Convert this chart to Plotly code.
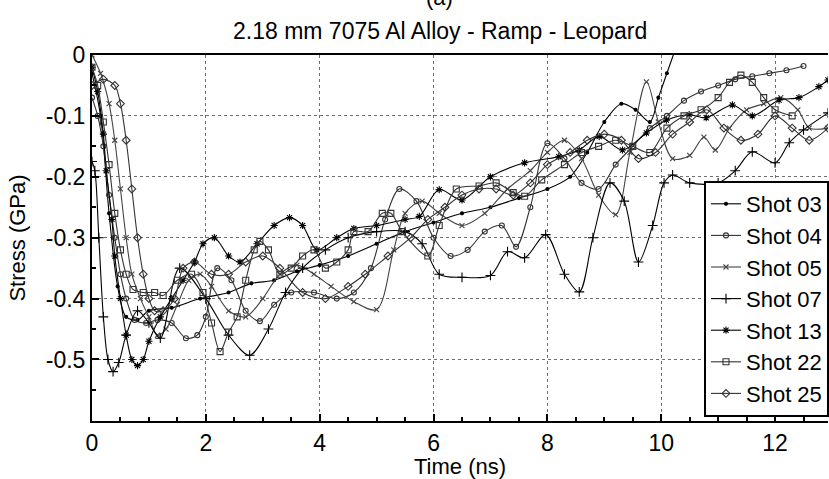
import plotly.graph_objects as go

# ---- data ----
t03 = [0, 0.15, 0.3, 0.45, 0.6, 0.8, 1.0, 1.4, 1.9, 2.4, 2.8, 3.2, 3.6, 4.0, 4.5, 5.0, 5.5, 6.0, 6.5, 7.0, 7.5, 8.0, 8.4, 8.7, 9.0, 9.3, 9.55, 9.8, 9.95, 10.1, 10.25]
v03 = [-0.03, -0.10, -0.26, -0.38, -0.43, -0.435, -0.42, -0.415, -0.40, -0.39, -0.375, -0.37, -0.355, -0.345, -0.33, -0.31, -0.29, -0.275, -0.26, -0.25, -0.235, -0.22, -0.20, -0.16, -0.11, -0.08, -0.09, -0.11, -0.07, -0.03, 0.01]

t04 = [0, 0.1, 0.2, 0.3, 0.4, 0.5, 0.6, 0.75, 0.95, 1.15, 1.4, 1.65, 1.85, 2.0, 2.2, 2.45, 2.7, 2.95, 3.2, 3.5, 3.9, 4.3, 4.6, 4.9, 5.15, 5.4, 5.7, 6.0, 6.3, 6.6, 6.9, 7.2, 7.45, 7.7, 8.0, 8.3, 8.6, 8.9, 9.2, 9.5, 9.8, 10.1, 10.4, 10.7, 11.0, 11.3, 11.6, 11.9, 12.2, 12.5]
v04 = [-0.07, -0.10, -0.15, -0.23, -0.30, -0.36, -0.40, -0.435, -0.44, -0.435, -0.44, -0.465, -0.46, -0.43, -0.35, -0.37, -0.42, -0.437, -0.41, -0.39, -0.39, -0.40, -0.39, -0.35, -0.27, -0.22, -0.24, -0.30, -0.33, -0.32, -0.29, -0.28, -0.315, -0.25, -0.145, -0.17, -0.21, -0.22, -0.18, -0.15, -0.12, -0.10, -0.075, -0.06, -0.05, -0.04, -0.035, -0.03, -0.025, -0.018]

t05 = [0, 0.15, 0.3, 0.4, 0.5, 0.6, 0.7, 0.85, 1.0, 1.15, 1.3, 1.5, 1.7, 1.9, 2.1, 2.4, 2.7, 3.0, 3.3, 3.6, 3.9, 4.2, 4.6, 5.0, 5.3, 5.5, 5.8, 6.1, 6.5, 6.9, 7.3, 7.7, 8.0, 8.3, 8.6, 8.9, 9.2, 9.45, 9.74, 9.95, 10.2, 10.5, 10.75, 10.95, 11.2, 11.5, 11.8, 12.1, 12.4, 12.6, 12.93]
v05 = [0.0, -0.03, -0.08, -0.14, -0.22, -0.30, -0.36, -0.40, -0.43, -0.46, -0.45, -0.41, -0.37, -0.36, -0.38, -0.42, -0.43, -0.40, -0.36, -0.345, -0.36, -0.38, -0.405, -0.418, -0.32, -0.26, -0.24, -0.26, -0.28, -0.26, -0.22, -0.19, -0.16, -0.14, -0.17, -0.23, -0.262, -0.16, -0.044, -0.11, -0.17, -0.165, -0.135, -0.156, -0.12, -0.09, -0.08, -0.07, -0.09, -0.12, -0.12]

t07 = [0, 0.05, 0.12, 0.2, 0.28, 0.37, 0.47, 0.6, 0.8, 1.0, 1.2, 1.54, 2.0, 2.4, 2.77, 3.1, 3.4, 3.7, 4.1, 4.5, 5.0, 5.5, 5.8, 6.1, 6.5, 7.0, 7.3, 7.6, 7.97, 8.3, 8.56, 8.8, 9.1, 9.35, 9.6, 9.85, 10.05, 10.2, 10.5, 11.0, 11.3, 11.6, 12.0, 12.25, 12.5, 12.93]
v07 = [-0.175, -0.19, -0.30, -0.43, -0.50, -0.52, -0.505, -0.46, -0.42, -0.44, -0.465, -0.35, -0.40, -0.46, -0.493, -0.45, -0.39, -0.35, -0.32, -0.30, -0.29, -0.29, -0.31, -0.36, -0.365, -0.362, -0.323, -0.333, -0.295, -0.36, -0.389, -0.30, -0.21, -0.24, -0.34, -0.28, -0.21, -0.197, -0.21, -0.21, -0.19, -0.159, -0.177, -0.144, -0.123, -0.095]

t13 = [0, 0.1, 0.2, 0.25, 0.35, 0.4, 0.5, 0.6, 0.7, 0.8, 0.9, 1.0, 1.2, 1.4, 1.6, 1.8, 1.95, 2.15, 2.4, 2.6, 2.9, 3.2, 3.47, 3.7, 3.95, 4.3, 4.6, 5.0, 5.5, 5.75, 6.1, 6.5, 7.0, 7.6, 8.2, 8.56, 8.91, 9.32, 9.74, 10.09, 10.49, 10.79, 11.25, 11.6, 12.07, 12.42, 12.77, 12.93]
v13 = [-0.02, -0.06, -0.13, -0.19, -0.27, -0.33, -0.40, -0.46, -0.50, -0.51, -0.50, -0.47, -0.43, -0.40, -0.37, -0.34, -0.31, -0.30, -0.33, -0.34, -0.31, -0.28, -0.267, -0.28, -0.32, -0.30, -0.285, -0.28, -0.27, -0.265, -0.221, -0.238, -0.20, -0.177, -0.167, -0.156, -0.134, -0.156, -0.128, -0.107, -0.098, -0.103, -0.082, -0.10, -0.074, -0.07, -0.052, -0.041]

t22 = [0, 0.1, 0.2, 0.3, 0.4, 0.5, 0.6, 0.72, 0.9, 1.1, 1.25, 1.5, 1.75, 1.95, 2.1, 2.25, 2.4, 2.55, 2.7, 2.85, 2.95, 3.1, 3.3, 3.5, 3.7, 3.9, 4.1, 4.3, 4.5, 4.6, 4.85, 5.1, 5.25, 5.45, 5.9, 6.1, 6.4, 6.8, 7.1, 7.4, 7.6, 7.9, 8.3, 8.6, 8.9, 9.2, 9.5, 9.8, 10.1, 10.4, 10.7, 11.0, 11.2, 11.4, 11.6, 11.8, 12.0, 12.3]
v22 = [-0.02, -0.05, -0.11, -0.18, -0.26, -0.32, -0.36, -0.385, -0.39, -0.39, -0.395, -0.37, -0.36, -0.39, -0.44, -0.487, -0.455, -0.43, -0.37, -0.32, -0.306, -0.32, -0.36, -0.35, -0.33, -0.32, -0.35, -0.34, -0.32, -0.29, -0.29, -0.26, -0.26, -0.29, -0.33, -0.28, -0.22, -0.215, -0.21, -0.226, -0.232, -0.205, -0.18, -0.16, -0.15, -0.14, -0.15, -0.16, -0.12, -0.10, -0.09, -0.07, -0.045, -0.033, -0.045, -0.07, -0.09, -0.10]

t25 = [0, 0.2, 0.4, 0.5, 0.6, 0.7, 0.8, 0.9, 1.0, 1.1, 1.25, 1.45, 1.6, 1.8, 2.1, 2.4, 2.7, 3.0, 3.3, 3.7, 4.1, 4.5, 4.8, 5.2, 5.6, 5.9, 6.2, 6.5, 6.8, 7.1, 7.4, 7.7, 8.0, 8.4, 8.7, 9.0, 9.3, 9.6, 9.9, 10.2, 10.5, 10.8, 11.1, 11.4, 11.7, 12.0, 12.3, 12.6, 12.93]
v25 = [-0.05, -0.04, -0.05, -0.08, -0.14, -0.22, -0.30, -0.36, -0.40, -0.42, -0.42, -0.40, -0.35, -0.34, -0.36, -0.36, -0.34, -0.33, -0.35, -0.39, -0.40, -0.38, -0.36, -0.33, -0.30, -0.27, -0.25, -0.23, -0.22, -0.22, -0.23, -0.21, -0.18, -0.16, -0.14, -0.13, -0.14, -0.17, -0.16, -0.13, -0.11, -0.09, -0.12, -0.14, -0.13, -0.10, -0.12, -0.14, -0.12]

names = ["Shot 03", "Shot 04", "Shot 05", "Shot 07", "Shot 13", "Shot 22", "Shot 25"]
xs = [t03, t04, t05, t07, t13, t22, t25]
ys = [v03, v04, v05, v07, v13, v22, v25]
symbols = ["circle", "circle-open", "x-thin-open", "cross-thin-open", "asterisk-open", "square-open", "diamond-open"]
sizes = [3, 5, 5, 7, 6, 6, 6]
colors = ["#000000", "#333333", "#444444", "#000000", "#000000", "#333333", "#333333"]

FONT = "Liberation Sans, Arial, sans-serif"

fig = go.Figure()
for n, x, y, s, sz, c in zip(names, xs, ys, symbols, sizes, colors):
    fig.add_trace(go.Scatter(
        x=x, y=y, name=n, mode="lines+markers", legendgroup=n,
        line=dict(color=c, width=1.1, shape="spline", smoothing=0.9),
        marker=dict(symbol=s, size=sz, color=c, line=dict(color=c, width=1.1)),
    ))

axis_common = dict(
    showline=True, linecolor="black", linewidth=2,
    ticks="inside", ticklen=7, tickwidth=1.5, tickcolor="black",
    showgrid=True, gridcolor="#6e6e6e", griddash="dot", gridwidth=1,
    zeroline=False,
    tickfont=dict(family=FONT, size=23, color="black"),
)

fig.update_layout(
    width=829, height=479,
    margin=dict(l=92, r=0, t=55, b=58),
    paper_bgcolor="white", plot_bgcolor="white",
    showlegend=True,
    legend=dict(
        x=(705 - 92) / 737, xanchor="left",
        y=(421 - 417) / 366, yanchor="bottom",
        bgcolor="white", bordercolor="black", borderwidth=2,
        font=dict(family=FONT, size=22, color="black"),
        tracegroupgap=0, itemwidth=30,
    ),
    xaxis=dict(
        range=[0, 12.93], tick0=0, dtick=2, mirror=True,
        minor=dict(ticks="inside", dtick=0.5, ticklen=4, tickcolor="black", showgrid=False),
        title=dict(text="Time (ns)", font=dict(family=FONT, size=22, color="black"), standoff=0),
        **axis_common,
    ),
    yaxis=dict(
        range=[-0.601, 0],
        tickvals=[0, -0.1, -0.2, -0.3, -0.4, -0.5],
        ticktext=["0", "-0.1", "-0.2", "-0.3", "-0.4", "-0.5"],
        minor=dict(ticks="inside", dtick=0.05, ticklen=4, tickcolor="black", showgrid=False),
        title=dict(text="Stress (GPa)", font=dict(family=FONT, size=22, color="black"), standoff=14),
        **axis_common,
    ),
)

fig.add_annotation(
    text="2.18 mm 7075 Al Alloy - Ramp - Leopard", xref="paper", yref="paper",
    x=(440 - 92) / 737, y=1 + (55 - 46) / 366, xanchor="center", yanchor="bottom",
    showarrow=False, font=dict(family=FONT, size=23, color="black"),
)
fig.add_annotation(
    text="(a)", xref="paper", yref="paper",
    x=(440 - 92) / 737, y=1 + (55 - 12) / 366, xanchor="center", yanchor="bottom",
    showarrow=False, font=dict(family=FONT, size=22, color="black"),
)

fig.write_html("out.html")
